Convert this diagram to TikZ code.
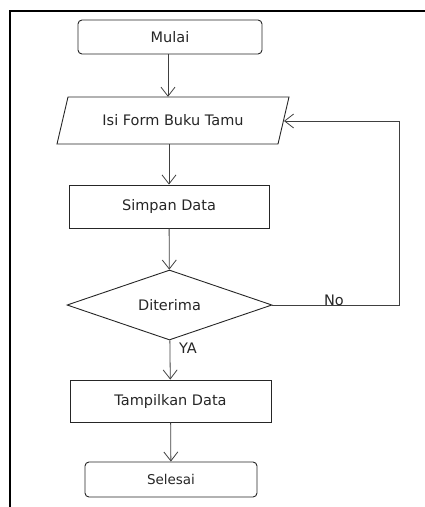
\documentclass[tikz,border=0pt]{standalone}
\usepackage{fontspec}
\setmainfont{DejaVu Sans}
\usetikzlibrary{arrows.meta,shapes.geometric,calc}
\begin{document}
\begin{tikzpicture}[x=1pt,y=-1pt,
  base/.style={draw=black!85, line width=0.9pt, align=center, inner sep=0pt, text=black!85, font=\fontsize{14.5}{16}\selectfont},
  term/.style={base, rounded corners=4pt},
  proc/.style={base},
  dec/.style={base, diamond, aspect=2.9},
  flow/.style={draw=black!75, line width=0.8pt, -{Straight Barb[length=9pt,width=14pt]}},
  lbl/.style={font=\fontsize{14.5}{16}\selectfont, text=black!85, inner sep=0pt}]
\useasboundingbox (0,0) rectangle (425,507);
\draw[line width=2.4pt] (10,507) -- (10,11) -- (425,11);
\node[term, minimum width=184pt, minimum height=34pt] (mulai) at (170,37) {Mulai};
\draw[draw=black!85, line width=0.9pt] (68,97) -- (289,97) -- (278,144) -- (57,144) -- cycle;
\node[lbl, minimum width=210pt, minimum height=47pt] (isi) at (173,120.5) {Isi Form Buku Tamu};
\node[proc, minimum width=200pt, minimum height=43pt] (simpan) at (169,206.5) {Simpan Data};
\node[dec, minimum width=205pt, minimum height=70pt] (dit) at (169.5,305) {Diterima};
\node[proc, minimum width=201pt, minimum height=42pt] (tampil) at (170.5,401) {Tampilkan Data};
\node[term, minimum width=172pt, minimum height=35pt, font=\fontsize{13.5}{15}\selectfont] (selesai) at (171,479.5) {Selesai};
\coordinate (c1) at (399,305);
\coordinate (c2) at (399,121);
\coordinate (c3) at (284,121);
\draw[flow] (mulai.south -| 168,0) -- (isi.north -| 168,0);
\draw[flow] (isi.south -| simpan) -- (simpan);
\draw[flow] (simpan) -- (dit);
\draw[flow] (dit) -- (tampil);
\draw[flow] (tampil) -- (selesai);
\draw[flow] (dit.east) -- (c1) -- (c2) -- (c3);
\node[lbl] (no) at (334,300) {No};
\node[lbl] (ya) at (188,348) {YA};
\end{tikzpicture}
\end{document}
